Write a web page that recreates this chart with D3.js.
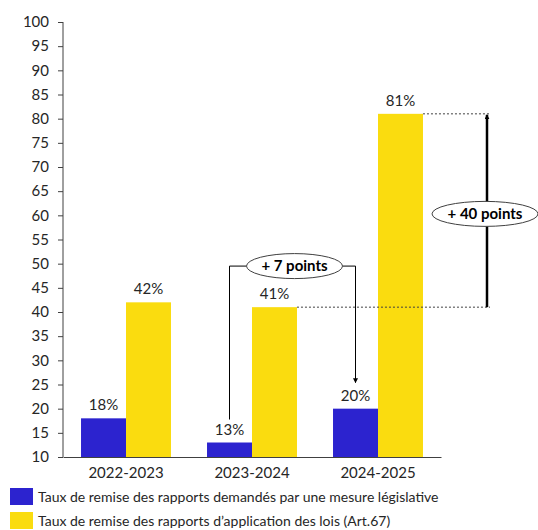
<!DOCTYPE html>
<html>
<head>
<meta charset="utf-8">
<script src="https://cdn.jsdelivr.net/npm/d3@7"></script>
<style>
  body { margin: 0; background: #fff; }
  text { font-family: Lato, "Open Sans", sans-serif; fill: #262626; }
</style>
</head>
<body>
<div class="chart"></div>
<script>
var years = ["2022-2023", "2023-2024", "2024-2025"];
var legislative = [18, 13, 20];
var application = [42, 41, 81];
var seriesNames = [
  "Taux de remise des rapports demandés par une mesure législative",
  "Taux de remise des rapports d\u2019application des lois (Art.67)"
];
var yTicks = d3.range(10, 101, 5);

var svgWidth = 538;
var svgHeight = 530;
var margin = { top: 22, right: 97, bottom: 73, left: 63 };
var width = svgWidth - margin.left - margin.right;
var height = svgHeight - margin.top - margin.bottom;

var colors = ["#2C23CF", "#FADC0F"];

var svg = d3.select(".chart").append("svg")
  .attr("width", svgWidth)
  .attr("height", svgHeight);

var chartGroup = svg.append("g")
  .attr("transform", `translate(${margin.left}, ${margin.top})`);

var x0 = d3.scaleBand().domain(years).range([0, width])
  .paddingInner(0.286).paddingOuter(0.143);
var x1 = d3.scaleBand().domain([0, 1]).range([0, x0.bandwidth()]);
var y = d3.scaleLinear().domain([10, 100]).range([height, 0]);

// y axis
var leftAxis = d3.axisLeft(y).tickValues(yTicks).tickSize(5).tickPadding(9);
var yAxis = chartGroup.append("g").call(leftAxis);
yAxis.select(".domain").attr("stroke", "#404040").attr("d", `M0,0V${height}`);
yAxis.selectAll(".tick line").attr("stroke", "#404040");
yAxis.selectAll("text").style("font-size", "15px");

// bars
var rows = years.map((yr, i) => ({ year: yr, values: [legislative[i], application[i]] }));
var groups = chartGroup.selectAll(".grp").data(rows).enter().append("g")
  .attr("transform", d => `translate(${x0(d.year)},0)`);

groups.selectAll("rect").data(d => d.values).enter().append("rect")
  .attr("x", (d, i) => x1(i))
  .attr("y", d => y(d))
  .attr("width", x1.bandwidth())
  .attr("height", d => height - y(d))
  .attr("fill", (d, i) => colors[i]);

groups.selectAll(".lbl").data(d => d.values).enter().append("text")
  .attr("x", (d, i) => x1(i) + x1.bandwidth() / 2)
  .attr("y", d => y(d) - 8)
  .attr("text-anchor", "middle")
  .style("font-size", "15px")
  .text(d => d + "%");

// x axis
var bottomAxis = d3.axisBottom(x0).tickSize(0).tickPadding(10);
var xAxis = chartGroup.append("g")
  .attr("transform", `translate(0, ${height})`)
  .call(bottomAxis);
xAxis.select(".domain").attr("stroke", "#404040");
xAxis.selectAll("text").style("font-size", "15px");

// annotation: +7 points (blue series, 2023-2024 -> 2024-2025)
var bx1 = x0(years[1]) + x1(0) + x1.bandwidth() / 2;
var bx2 = x0(years[2]) + x1(0) + x1.bandwidth() / 2;
var yMid7 = y(49.5);
var ell7 = { cx: (bx1 + bx2) / 2 + 2, rx: 48, ry: 12.5 };

svg.append("defs").append("marker")
  .attr("id", "arrow")
  .attr("viewBox", "0 0 10 10")
  .attr("refX", 9).attr("refY", 5)
  .attr("markerWidth", 5).attr("markerHeight", 5)
  .attr("markerUnits", "userSpaceOnUse")
  .attr("orient", "auto")
  .append("path").attr("d", "M0,0L10,5L0,10z").attr("fill", "#000");

chartGroup.append("path")
  .attr("d", `M${bx1},${y(legislative[1]) - 23}V${yMid7}H${ell7.cx - ell7.rx}`)
  .attr("fill", "none").attr("stroke", "#000").attr("stroke-width", 1);
chartGroup.append("path")
  .attr("d", `M${ell7.cx + ell7.rx},${yMid7}H${bx2}V${y(legislative[2]) - 26}`)
  .attr("fill", "none").attr("stroke", "#000").attr("stroke-width", 1)
  .attr("marker-end", "url(#arrow)");
chartGroup.append("ellipse")
  .attr("cx", ell7.cx).attr("cy", yMid7).attr("rx", ell7.rx).attr("ry", ell7.ry)
  .attr("fill", "#fff").attr("stroke", "#404040").attr("stroke-width", 1);
chartGroup.append("text")
  .attr("x", ell7.cx).attr("y", yMid7).attr("dy", "0.35em")
  .attr("text-anchor", "middle")
  .style("font-size", "15px").style("font-weight", "bold").style("fill", "#000")
  .text("+ 7 points");

// annotation: +40 points (yellow series, 2023-2024 -> 2024-2025)
var ax = width + 46;
var yr1 = x0(years[1]) + x1(1) + x1.bandwidth();
var yr2 = x0(years[2]) + x1(1) + x1.bandwidth();
chartGroup.append("line")
  .attr("x1", yr1).attr("x2", ax + 3)
  .attr("y1", y(application[1])).attr("y2", y(application[1]))
  .attr("stroke", "#404040").attr("stroke-dasharray", "2,2");
chartGroup.append("line")
  .attr("x1", yr2).attr("x2", ax + 3)
  .attr("y1", y(application[2])).attr("y2", y(application[2]))
  .attr("stroke", "#404040").attr("stroke-dasharray", "2,2");
chartGroup.append("line")
  .attr("x1", ax).attr("x2", ax)
  .attr("y1", y(application[1])).attr("y2", y(application[2]) + 1)
  .attr("stroke", "#000").attr("stroke-width", 2.5)
  .attr("marker-end", "url(#arrow)");
var yMid40 = y(60.3);
chartGroup.append("ellipse")
  .attr("cx", ax - 2).attr("cy", yMid40).attr("rx", 53).attr("ry", 12.5)
  .attr("fill", "#fff").attr("stroke", "#404040").attr("stroke-width", 1);
chartGroup.append("text")
  .attr("x", ax - 2).attr("y", yMid40).attr("dy", "0.35em")
  .attr("text-anchor", "middle")
  .style("font-size", "15px").style("font-weight", "bold").style("fill", "#000")
  .text("+ 40 points");

// legend
var legend = svg.append("g").attr("transform", "translate(10, 488)");
seriesNames.forEach(function(name, i) {
  var g = legend.append("g").attr("transform", `translate(0, ${i * 24})`);
  g.append("rect").attr("width", 23).attr("height", 17).attr("fill", colors[i]);
  g.append("text").attr("x", 28).attr("y", 9).attr("dy", "0.35em")
    .style("font-size", "14px").text(name);
});
</script>
</body>
</html>
